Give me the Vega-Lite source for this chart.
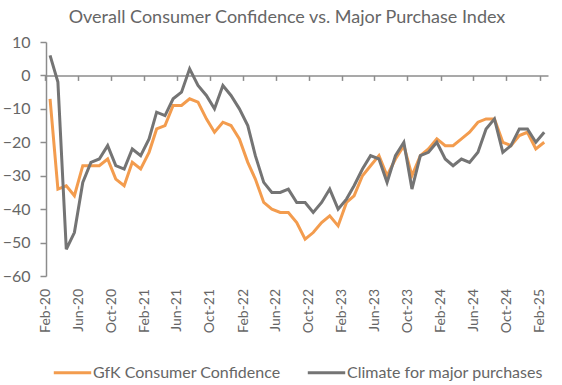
{
  "$schema": "https://vega.github.io/schema/vega-lite/v6.json",
  "width": 502,
  "height": 234,
  "autosize": "none",
  "padding": {"left": 46, "top": 42, "right": 14, "bottom": 109},
  "background": "white",
  "title": {"text": "Overall Consumer Confidence vs. Major Purchase Index", "fontSize": 18, "font": "Lato", "fontWeight": "normal", "color": "#666666", "anchor": "middle", "dx": -10, "offset": 7},
  "data": {"values": [
    {"date": "2020-02-01", "GfK Consumer Confidence": -7, "Climate for major purchases": 6},
    {"date": "2020-03-01", "GfK Consumer Confidence": -34, "Climate for major purchases": -2},
    {"date": "2020-04-01", "GfK Consumer Confidence": -33, "Climate for major purchases": -52},
    {"date": "2020-05-01", "GfK Consumer Confidence": -36, "Climate for major purchases": -47},
    {"date": "2020-06-01", "GfK Consumer Confidence": -27, "Climate for major purchases": -32},
    {"date": "2020-07-01", "GfK Consumer Confidence": -27, "Climate for major purchases": -26},
    {"date": "2020-08-01", "GfK Consumer Confidence": -27, "Climate for major purchases": -25},
    {"date": "2020-09-01", "GfK Consumer Confidence": -25, "Climate for major purchases": -21},
    {"date": "2020-10-01", "GfK Consumer Confidence": -31, "Climate for major purchases": -27},
    {"date": "2020-11-01", "GfK Consumer Confidence": -33, "Climate for major purchases": -28},
    {"date": "2020-12-01", "GfK Consumer Confidence": -26, "Climate for major purchases": -22},
    {"date": "2021-01-01", "GfK Consumer Confidence": -28, "Climate for major purchases": -24},
    {"date": "2021-02-01", "GfK Consumer Confidence": -23, "Climate for major purchases": -19},
    {"date": "2021-03-01", "GfK Consumer Confidence": -16, "Climate for major purchases": -11},
    {"date": "2021-04-01", "GfK Consumer Confidence": -15, "Climate for major purchases": -12},
    {"date": "2021-05-01", "GfK Consumer Confidence": -9, "Climate for major purchases": -7},
    {"date": "2021-06-01", "GfK Consumer Confidence": -9, "Climate for major purchases": -5},
    {"date": "2021-07-01", "GfK Consumer Confidence": -7, "Climate for major purchases": 2},
    {"date": "2021-08-01", "GfK Consumer Confidence": -8, "Climate for major purchases": -3},
    {"date": "2021-09-01", "GfK Consumer Confidence": -13, "Climate for major purchases": -6},
    {"date": "2021-10-01", "GfK Consumer Confidence": -17, "Climate for major purchases": -10},
    {"date": "2021-11-01", "GfK Consumer Confidence": -14, "Climate for major purchases": -3},
    {"date": "2021-12-01", "GfK Consumer Confidence": -15, "Climate for major purchases": -6},
    {"date": "2022-01-01", "GfK Consumer Confidence": -19, "Climate for major purchases": -10},
    {"date": "2022-02-01", "GfK Consumer Confidence": -26, "Climate for major purchases": -15},
    {"date": "2022-03-01", "GfK Consumer Confidence": -31, "Climate for major purchases": -24},
    {"date": "2022-04-01", "GfK Consumer Confidence": -38, "Climate for major purchases": -32},
    {"date": "2022-05-01", "GfK Consumer Confidence": -40, "Climate for major purchases": -35},
    {"date": "2022-06-01", "GfK Consumer Confidence": -41, "Climate for major purchases": -35},
    {"date": "2022-07-01", "GfK Consumer Confidence": -41, "Climate for major purchases": -34},
    {"date": "2022-08-01", "GfK Consumer Confidence": -44, "Climate for major purchases": -38},
    {"date": "2022-09-01", "GfK Consumer Confidence": -49, "Climate for major purchases": -38},
    {"date": "2022-10-01", "GfK Consumer Confidence": -47, "Climate for major purchases": -41},
    {"date": "2022-11-01", "GfK Consumer Confidence": -44, "Climate for major purchases": -38},
    {"date": "2022-12-01", "GfK Consumer Confidence": -42, "Climate for major purchases": -34},
    {"date": "2023-01-01", "GfK Consumer Confidence": -45, "Climate for major purchases": -40},
    {"date": "2023-02-01", "GfK Consumer Confidence": -38, "Climate for major purchases": -37},
    {"date": "2023-03-01", "GfK Consumer Confidence": -36, "Climate for major purchases": -33},
    {"date": "2023-04-01", "GfK Consumer Confidence": -30, "Climate for major purchases": -28},
    {"date": "2023-05-01", "GfK Consumer Confidence": -27, "Climate for major purchases": -24},
    {"date": "2023-06-01", "GfK Consumer Confidence": -24, "Climate for major purchases": -25},
    {"date": "2023-07-01", "GfK Consumer Confidence": -30, "Climate for major purchases": -32},
    {"date": "2023-08-01", "GfK Consumer Confidence": -25, "Climate for major purchases": -24},
    {"date": "2023-09-01", "GfK Consumer Confidence": -21, "Climate for major purchases": -20},
    {"date": "2023-10-01", "GfK Consumer Confidence": -30, "Climate for major purchases": -34},
    {"date": "2023-11-01", "GfK Consumer Confidence": -24, "Climate for major purchases": -24},
    {"date": "2023-12-01", "GfK Consumer Confidence": -22, "Climate for major purchases": -23},
    {"date": "2024-01-01", "GfK Consumer Confidence": -19, "Climate for major purchases": -20},
    {"date": "2024-02-01", "GfK Consumer Confidence": -21, "Climate for major purchases": -25},
    {"date": "2024-03-01", "GfK Consumer Confidence": -21, "Climate for major purchases": -27},
    {"date": "2024-04-01", "GfK Consumer Confidence": -19, "Climate for major purchases": -25},
    {"date": "2024-05-01", "GfK Consumer Confidence": -17, "Climate for major purchases": -26},
    {"date": "2024-06-01", "GfK Consumer Confidence": -14, "Climate for major purchases": -23},
    {"date": "2024-07-01", "GfK Consumer Confidence": -13, "Climate for major purchases": -16},
    {"date": "2024-08-01", "GfK Consumer Confidence": -13, "Climate for major purchases": -13},
    {"date": "2024-09-01", "GfK Consumer Confidence": -20, "Climate for major purchases": -23},
    {"date": "2024-10-01", "GfK Consumer Confidence": -21, "Climate for major purchases": -21},
    {"date": "2024-11-01", "GfK Consumer Confidence": -18, "Climate for major purchases": -16},
    {"date": "2024-12-01", "GfK Consumer Confidence": -17, "Climate for major purchases": -16},
    {"date": "2025-01-01", "GfK Consumer Confidence": -22, "Climate for major purchases": -20},
    {"date": "2025-02-01", "GfK Consumer Confidence": -20, "Climate for major purchases": -17}
  ]},
  "transform": [{"fold": ["GfK Consumer Confidence", "Climate for major purchases"], "as": ["series", "value"]}],
  "encoding": {
    "x": {
      "field": "date", "type": "temporal",
      "scale": {"type": "utc", "domain": [{"year": 2020, "month": "jan", "date": 17, "utc": true}, {"year": 2025, "month": "feb", "date": 15, "utc": true}]},
      "axis": {
        "title": null, "format": "%b-%y", "labelAngle": -90, "grid": false,
        "values": [
          {"year": 2020, "month": "feb", "date": 1, "utc": true}, {"year": 2020, "month": "jun", "date": 1, "utc": true}, {"year": 2020, "month": "oct", "date": 1, "utc": true},
          {"year": 2021, "month": "feb", "date": 1, "utc": true}, {"year": 2021, "month": "jun", "date": 1, "utc": true}, {"year": 2021, "month": "oct", "date": 1, "utc": true},
          {"year": 2022, "month": "feb", "date": 1, "utc": true}, {"year": 2022, "month": "jun", "date": 1, "utc": true}, {"year": 2022, "month": "oct", "date": 1, "utc": true},
          {"year": 2023, "month": "feb", "date": 1, "utc": true}, {"year": 2023, "month": "jun", "date": 1, "utc": true}, {"year": 2023, "month": "oct", "date": 1, "utc": true},
          {"year": 2024, "month": "feb", "date": 1, "utc": true}, {"year": 2024, "month": "jun", "date": 1, "utc": true}, {"year": 2024, "month": "oct", "date": 1, "utc": true},
          {"year": 2025, "month": "feb", "date": 1, "utc": true}
        ],
        "offset": -200.6, "tickSize": 5, "tickOffset": -4.7, "labelPadding": 208,
        "domainColor": "#8c8c8c", "tickColor": "#8c8c8c", "domainWidth": 1.5, "tickWidth": 1.5,
        "labelFont": "Lato", "labelFontSize": 14, "labelColor": "#666666",
        "labelOverlap": false, "labelFlush": false
      }
    },
    "y": {
      "field": "value", "type": "quantitative",
      "scale": {"domain": [-60, 10], "nice": false, "zero": false},
      "axis": {
        "title": null, "values": [10, 0, -10, -20, -30, -40, -50, -60], "grid": false,
        "tickSize": 6, "labelPadding": 10,
        "domainColor": "#8c8c8c", "tickColor": "#8c8c8c", "domainWidth": 1.5, "tickWidth": 1.5,
        "labelFont": "Lato", "labelFontSize": 16, "labelColor": "#666666"
      }
    },
    "color": {
      "field": "series", "type": "nominal",
      "scale": {"domain": ["GfK Consumer Confidence", "Climate for major purchases"], "range": ["#F39C4E", "#747474"]},
      "legend": {
        "title": null, "orient": "none", "direction": "horizontal", "legendX": 6, "legendY": 310,
        "symbolType": "stroke", "symbolSize": 1400, "symbolStrokeWidth": 3,
        "labelFont": "Lato", "labelFontSize": 16, "labelColor": "#666666", "labelOffset": 0, "labelLimit": 400,
        "columnPadding": 20
      }
    }
  },
  "layer": [
    {"transform": [{"filter": "datum.series === 'GfK Consumer Confidence'"}], "mark": {"type": "line", "strokeWidth": 3}},
    {"transform": [{"filter": "datum.series === 'Climate for major purchases'"}], "mark": {"type": "line", "strokeWidth": 3}}
  ],
  "config": {"view": {"stroke": null}, "font": "Lato"}
}
